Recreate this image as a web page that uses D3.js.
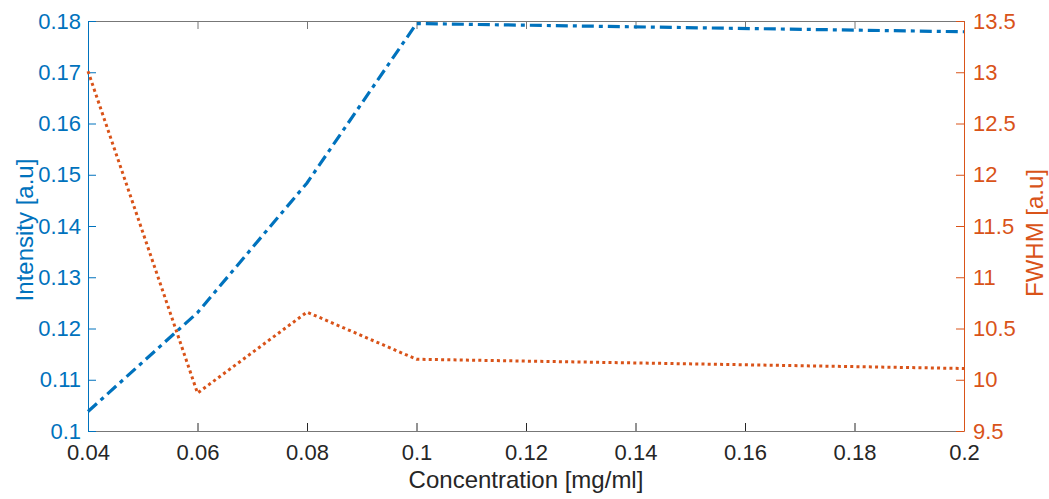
<!DOCTYPE html>
<html>
<head>
<meta charset="utf-8">
<script src="https://cdn.jsdelivr.net/npm/d3@7"></script>
<style>
  body { margin: 0; background: #fff; }
  text { font-family: "Liberation Sans", Arial, sans-serif; }
</style>
</head>
<body>
<script>
// data
const concentration = [0.04, 0.06, 0.08, 0.1, 0.2];
const intensity = [0.1038, 0.1231, 0.1484, 0.1795, 0.1779];
const fwhm = [13.01, 9.87, 10.66, 10.2, 10.11];

const x_ticks = [0.04, 0.06, 0.08, 0.1, 0.12, 0.14, 0.16, 0.18, 0.2];
const left_ticks = [0.1, 0.11, 0.12, 0.13, 0.14, 0.15, 0.16, 0.17, 0.18];
const right_ticks = [9.5, 10, 10.5, 11, 11.5, 12, 12.5, 13, 13.5];

const BLUE = "#0072BD";
const ORANGE = "#D95319";
const DARK = "#262626";

const width = 1049, height = 499;
const margin = {top: 21, right: 85, bottom: 68, left: 88};
const inner_w = width - margin.left - margin.right;
const inner_h = height - margin.top - margin.bottom;

const svg = d3.select("body").append("svg")
    .attr("width", width)
    .attr("height", height);

const g = svg.append("g")
    .attr("transform", `translate(${margin.left},${margin.top})`);

const x = d3.scaleLinear().domain([0.04, 0.2]).range([0, inner_w]);
const y_left = d3.scaleLinear().domain([0.1, 0.18]).range([inner_h, 0]);
const y_right = d3.scaleLinear().domain([9.5, 13.5]).range([inner_h, 0]);

const fmt = d => String(+d.toFixed(3));

// axes, ticks pointing inward like matlab
const style_axis = function (sel, color, size) {
    sel.select(".domain").attr("stroke", color).attr("stroke-width", 1);
    sel.selectAll(".tick line").attr("stroke", color);
    sel.selectAll(".tick text")
        .attr("fill", color)
        .style("font-size", size + "px");
};

g.append("g")
    .attr("transform", `translate(0,${inner_h})`)
    .call(d3.axisBottom(x).tickValues(x_ticks).tickFormat(fmt).tickSizeInner(-8).tickSizeOuter(0).tickPadding(13))
    .call(sel => style_axis(sel, DARK, 22))
    .call(sel => sel.select(".domain").attr("stroke", "#777"));

g.append("g")
    .call(d3.axisTop(x).tickValues(x_ticks).tickFormat("").tickSizeInner(-8).tickSizeOuter(0))
    .call(sel => style_axis(sel, "#777", 22));

g.append("g")
    .call(d3.axisLeft(y_left).tickValues(left_ticks).tickFormat(fmt).tickSizeInner(-8).tickSizeOuter(0).tickPadding(7))
    .call(sel => style_axis(sel, BLUE, 22));

g.append("g")
    .attr("transform", `translate(${inner_w},0)`)
    .call(d3.axisRight(y_right).tickValues(right_ticks).tickFormat(fmt).tickSizeInner(-8).tickSizeOuter(0).tickPadding(9))
    .call(sel => style_axis(sel, ORANGE, 22));

// lines
const blue_line = d3.line()
    .x((d, i) => x(concentration[i]))
    .y(d => y_left(d));

const orange_line = d3.line()
    .x((d, i) => x(concentration[i]))
    .y(d => y_right(d));

g.append("path")
    .datum(intensity)
    .attr("fill", "none")
    .attr("stroke", BLUE)
    .attr("stroke-width", 3.2)
    .attr("stroke-dasharray", "12,5,4,5")
    .attr("d", blue_line);

g.append("path")
    .datum(fwhm)
    .attr("fill", "none")
    .attr("stroke", ORANGE)
    .attr("stroke-width", 3)
    .attr("stroke-dasharray", "3,3.2")
    .attr("d", orange_line);

// titles
svg.append("text")
    .attr("x", margin.left + inner_w / 2)
    .attr("y", 488)
    .attr("text-anchor", "middle")
    .attr("fill", DARK)
    .style("font-size", "24px")
    .text("Concentration [mg/ml]");

svg.append("text")
    .attr("transform", `translate(33,${margin.top + inner_h / 2 + 4}) rotate(-90)`)
    .attr("text-anchor", "middle")
    .attr("fill", BLUE)
    .style("font-size", "24px")
    .text("Intensity [a.u]");

svg.append("text")
    .attr("transform", `translate(1043,${margin.top + inner_h / 2 + 7}) rotate(-90)`)
    .attr("text-anchor", "middle")
    .attr("fill", ORANGE)
    .style("font-size", "24px")
    .text("FWHM [a.u]");
</script>
</body>
</html>
